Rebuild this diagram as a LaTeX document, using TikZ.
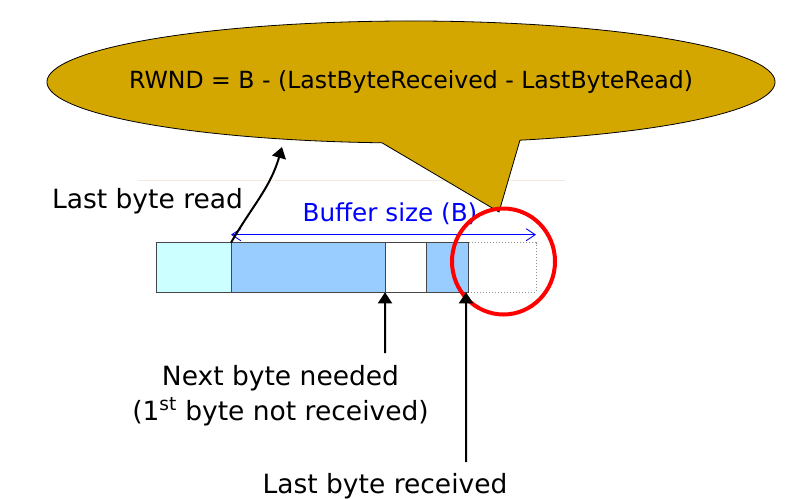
\documentclass[tikz,border=0pt]{standalone}
\usepackage{fontspec}
\setmainfont{DejaVu Sans}
\usetikzlibrary{arrows.meta, positioning}

\begin{document}
\begin{tikzpicture}[x=1pt, y=1pt,
    cell/.style={draw=cellline, line width=1pt, minimum height=49.6pt, inner sep=0pt, outer sep=0pt},
    label/.style={font=\fontsize{26.5}{30}\selectfont, anchor=base, inner sep=0pt},
    pointer/.style={line width=2pt, -{Triangle[length=11pt, width=14pt]}}]
    \definecolor{bubblegold}{RGB}{212,166,0}
    \definecolor{cellline}{RGB}{70,70,70}
    \definecolor{readcyan}{RGB}{204,255,255}
    \definecolor{bufblue}{RGB}{153,204,255}
    \definecolor{faintline}{RGB}{242,234,222}
    \useasboundingbox (0,0) rectangle (787,-498);
    % Faint rule behind the bubble
    \draw[faintline, line width=1pt] (138,-180.5) -- (565,-180.5);
    % Speech bubble
    \draw[fill=bubblegold, line width=0.8pt] (411,-82) ++(287.42:364 and 61)
        arc[start angle=287.42, end angle=625.43, x radius=364, y radius=61]
        -- (499,-212) -- cycle;
    \node[font=\fontsize{23.6}{28}\selectfont] (rwnd) at (411,-82) {RWND = B - (LastByteReceived - LastByteRead)};
    \coordinate (readtip) at (282,-147);
    % Receive buffer
    \node[cell, fill=readcyan, minimum width=74.3pt, anchor=north west] (c1) at (156.7,-242.7) {};
    \node[cell, fill=bufblue, minimum width=154pt, right=0pt of c1] (c2) {};
    \node[cell, fill=white, minimum width=41pt, right=0pt of c2] (c3) {};
    \node[cell, draw=cellline!60, dotted, fill=white, minimum width=67.7pt, right=42.3pt of c3] (c5) {};
    \node[cell, fill=bufblue, minimum width=42.3pt, right=0pt of c3] (c4) {};
    % Buffer size
    \draw[blue, line width=0.9pt, {Straight Barb[length=9pt, width=12pt]}-{Straight Barb[length=9pt, width=12pt]}]
        ([yshift=8pt]c2.north west) -- ([yshift=8pt]c5.north east);
    \node[font=\fontsize{24.7}{28}\selectfont, anchor=base, inner sep=0pt, text=blue] (bsize) at (390,-221) {Buffer size (B)};
    % Free space
    \draw[red, line width=4pt] (503.5,-261.5) ellipse [x radius=51.5, y radius=53];
    % Labels
    \node[label] (lread) at (147.5,-208) {Last byte read};
    \draw[pointer] (c2.north west) to[out=60, in=-106] (readtip);
    \node[label] (needed) at (280.5,-385) {Next byte needed};
    \node[label] (first) at (280.5,-420) {(1\textsuperscript{st} byte not received)};
    \coordinate (neededtail) at (385,-353);
    \draw[pointer] (neededtail) -- (c2.south east);
    \node[label] (lrcvd) at (385,-493) {Last byte received};
    \coordinate (rcvdtail) at (466,-462);
    \draw[pointer] (rcvdtail) -- ([xshift=-2.3pt]c4.south east);
\end{tikzpicture}
\end{document}
